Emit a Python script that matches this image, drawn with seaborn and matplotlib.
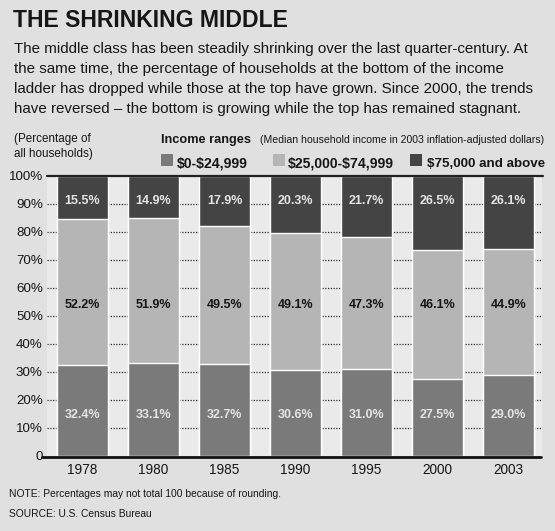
import matplotlib
matplotlib.use("Agg")
import matplotlib.pyplot as plt
import seaborn as sns
import pandas as pd
from matplotlib.patches import Rectangle
from matplotlib.lines import Line2D

# ---------------- data ----------------
years = ["1978", "1980", "1985", "1990", "1995", "2000", "2003"]
low_share = [32.4, 33.1, 32.7, 30.6, 31.0, 27.5, 29.0]      # $0-$24,999
mid_share = [52.2, 51.9, 49.5, 49.1, 47.3, 46.1, 44.9]      # $25,000-$74,999
high_share = [15.5, 14.9, 17.9, 20.3, 21.7, 26.5, 26.1]     # $75,000 and above
series_names = ["$0-$24,999", "$25,000-$74,999", "$75,000 and above"]
ytick_values = [0, 10, 20, 30, 40, 50, 60, 70, 80, 90, 100]
ytick_labels = ["0", "10%", "20%", "30%", "40%", "50%", "60%", "70%", "80%", "90%", "100%"]

title = "THE SHRINKING MIDDLE"
subtitle_lines = [
    "The middle class has been steadily shrinking over the last quarter-century. At",
    "the same time, the percentage of households at the bottom of the income",
    "ladder has dropped while those at the top have grown. Since 2000, the trends",
    "have reversed \u2013 the bottom is growing while the top has remained stagnant.",
]
legend_title = "Income ranges"
legend_sub = "(Median household income in 2003 inflation-adjusted dollars)"
note = "NOTE: Percentages may not total 100 because of rounding."
source = "SOURCE: U.S. Census Bureau"

# ---------------- style ----------------
sns.set_theme(style="white")
plt.rcParams["font.family"] = ["Liberation Sans", "DejaVu Sans"]
plt.rcParams["text.parse_math"] = False

C_LOW = "#7a7a7a"
C_MID = "#b5b5b5"
C_HIGH = "#444444"
C_TXT = "#161616"
BG = "#e0e0e0"

W, H = 555, 531
fig = plt.figure(figsize=(W / 100, H / 100), dpi=100, facecolor=BG)

def fx(x):
    return x / W

def fy(y):
    return 1 - y / H

ax = fig.add_axes([fx(47), fy(456), (542 - 47) / W, (456 - 176) / H])
ax.set_facecolor("#eaeaea")

df = pd.DataFrame({
    "year": years,
    "low": low_share,
    "mid": mid_share,
    "high": high_share,
})
df["cum_mid"] = df["low"] + df["mid"]
df["cum_high"] = df["cum_mid"] + df["high"]

# dotted gridlines (behind bars)
ax.set_axisbelow(True)
for v in ytick_values[1:-1]:
    ax.axhline(v, color="#2a2a2a", lw=0.9, ls=(0, (1, 1.2)), zorder=0)

bw = 0.72
sns.barplot(data=df, x="year", y="cum_high", order=years, color=C_HIGH,
            saturation=1, width=bw, ax=ax, zorder=2)
sns.barplot(data=df, x="year", y="cum_mid", order=years, color=C_MID,
            saturation=1, width=bw, ax=ax, zorder=3)
sns.barplot(data=df, x="year", y="low", order=years, color=C_LOW,
            saturation=1, width=bw, ax=ax, zorder=4)

for i in range(len(years)):
    ax.text(i, 91.2, f"{high_share[i]:.1f}%", ha="center", va="center",
            color="#e4e4e4", fontsize=9, fontweight="bold", zorder=6)
    ax.text(i, 54.0, f"{mid_share[i]:.1f}%", ha="center", va="center",
            color=C_TXT, fontsize=9, fontweight="bold", zorder=6)
    ax.text(i, 14.6, f"{low_share[i]:.1f}%", ha="center", va="center",
            color="#e4e4e4", fontsize=9, fontweight="bold", zorder=6)

ax.set_xlim(-0.5, 6.47)
ax.set_ylim(0, 100)
ax.set_yticks(ytick_values)
ax.set_yticklabels(ytick_labels)
ax.set_xlabel("")
ax.set_ylabel("")
ax.tick_params(axis="y", length=0, pad=3, labelsize=9.6, labelcolor=C_TXT)
ax.tick_params(axis="x", length=0, pad=5, labelsize=9.8, labelcolor=C_TXT)
for s in ["left", "right", "top", "bottom"]:
    ax.spines[s].set_visible(False)

# top (100%) line and baseline
fig.add_artist(Line2D([fx(47), fx(543)], [fy(176), fy(176)], color="#222222", lw=1.6, zorder=10))
fig.add_artist(Line2D([fx(42), fx(541)], [fy(457), fy(457)], color="#111111", lw=2.0, zorder=10))

# ---------------- text ----------------
fig.text(fx(13), fy(27), title, fontsize=16.6, fontweight="bold", color=C_TXT, va="baseline")
for k, line in enumerate(subtitle_lines):
    fig.text(fx(14), fy(52.5 + k * 20.3), line, fontsize=10.9, color=C_TXT, va="baseline")

fig.text(fx(14), fy(142), "(Percentage of", fontsize=8.4, color=C_TXT, va="baseline")
fig.text(fx(14), fy(157), "all households)", fontsize=8.4, color=C_TXT, va="baseline")

fig.text(fx(161), fy(143), legend_title, fontsize=9.2, fontweight="bold", color=C_TXT, va="baseline")
fig.text(fx(260), fy(143), legend_sub, fontsize=7.55, color=C_TXT, va="baseline")

leg_colors = [C_LOW, C_MID, C_HIGH]
sq_x = [161, 273, 410]
txt_x = [177, 288, 427]
txt_size = [10.1, 10.1, 9.6]
for name, c, sx, tx, fs in zip(series_names, leg_colors, sq_x, txt_x, txt_size):
    fig.add_artist(Rectangle((fx(sx), fy(166)), 12 / W, 12 / H,
                             transform=fig.transFigure, facecolor=c, edgecolor="none"))
    fig.text(fx(tx), fy(167), name, fontsize=fs, fontweight="bold", color=C_TXT, va="baseline")

fig.text(fx(9), fy(497), note, fontsize=7.4, color=C_TXT, va="baseline")
fig.text(fx(9), fy(517), source, fontsize=7.4, color=C_TXT, va="baseline")

fig.savefig("out.png", dpi=100, facecolor=BG)
